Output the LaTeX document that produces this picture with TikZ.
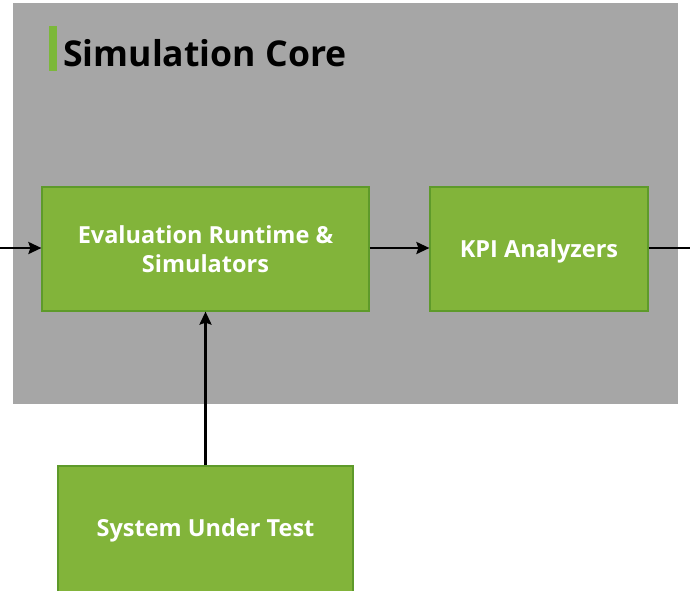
\documentclass[tikz,border=0pt]{standalone}
\usepackage{fontspec}
\setmainfont{Open Sans}
\usetikzlibrary{arrows.meta}
\definecolor{panelgray}{HTML}{A6A6A6}
\definecolor{boxgreen}{HTML}{82B43A}
\definecolor{boxedge}{HTML}{5E9A2A}
\definecolor{accent}{HTML}{7CB83A}
\tikzset{
  boxfont/.style={font=\fontsize{23.5pt}{29pt}\selectfont\bfseries},
  greenbox/.style={draw=boxedge, line width=1.2pt, fill=boxgreen, text=white,
    boxfont, align=center, inner sep=0pt},
  conn/.style={draw=black, line width=2.4pt, -{Stealth[length=13pt,width=12pt,inset=2pt]}},
  plain/.style={draw=black, line width=2.4pt}
}
\begin{document}
\begin{tikzpicture}[x=1pt,y=-1pt]
\useasboundingbox (0,0) rectangle (690,590);
\clip (0,0) rectangle (690,590);
\fill[panelgray] (13,3) rectangle (678,404);
\fill[accent] (49,26) rectangle (57,71);
\node[anchor=base west, inner sep=0pt, font=\fontsize{35.6pt}{40pt}\selectfont\bfseries] (title) at (63,66) {Simulation Core};
\node[greenbox, minimum width=327pt, minimum height=124pt] (eval) at (205.5,249) {Evaluation Runtime \&\\Simulators};
\node[greenbox, minimum width=218pt, minimum height=124pt, text depth=0pt] (kpi) at (539,249) {KPI Analyzers};
\node[greenbox, minimum width=295pt, minimum height=140pt] (sut) at (205.5,536) {};
\node[text=white, boxfont, inner sep=0pt, text depth=0pt] (sutlabel) at (205.5,528) {System Under Test};
\coordinate (inl) at (0,248);
\coordinate (outr) at (690,248);
\draw[conn] (inl) -- (eval.west |- inl);
\draw[conn] (eval.east |- inl) -- (kpi.west |- inl);
\draw[plain] (kpi.east |- outr) -- (outr);
\draw[conn] (sut.north) -- (eval.south);
\end{tikzpicture}
\end{document}
